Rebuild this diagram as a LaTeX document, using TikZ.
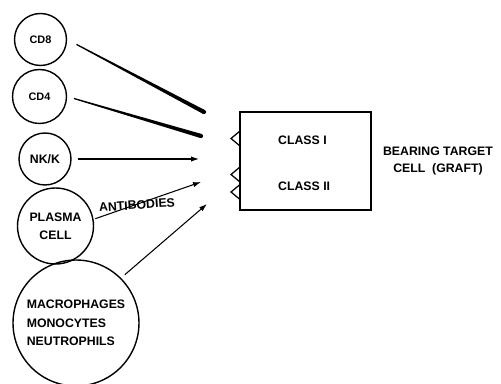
\documentclass[tikz,border=0pt]{standalone}
\usepackage{fontspec}
\setmainfont{Liberation Sans}
\usepackage{tikz}
\usetikzlibrary{positioning,calc,arrows.meta}

\tikzset{
 cell/.style={circle, draw, line width=0.8pt, inner sep=0pt, align=center,
   font=\fontsize{7}{10.5}\selectfont\bfseries},
 cdcell/.style={cell, font=\fontsize{6.2}{7}\selectfont\bfseries},
 lbl/.style={font=\fontsize{7}{10.2}\selectfont\bfseries, align=center},
 hit/.style={line width=0.6pt, -{Latex[length=4.5pt,width=3pt]}},
 pocket/.style={line width=0.7pt},
}

\newcommand\taperline[3]{%
 \coordinate (ts) at ($(#1)!#3!(#2)$);
 \fill ($(ts)!0.35pt!90:(#2)$) -- ($(#2)!1.2pt!-90:(ts)$)
   -- ($(#2)!1.2pt!90:(ts)$) -- ($(ts)!0.35pt!-90:(#2)$) -- cycle;
 \fill (#2) circle (1.2pt);
}

\begin{document}
\begin{tikzpicture}[x=0.02cm, y=-0.02cm]

 \useasboundingbox (0,0) rectangle (501,384);

 \node[cdcell, minimum size=1.04cm] (cd8) at (40.5,39.5) {CD8};
 \node[cdcell, minimum size=1.08cm] (cd4) at (39.5,96.5) {CD4};
 \node[cell, minimum size=1.04cm] (nk) at (45,159) {NK/K};
 \node[cell, minimum size=1.52cm] (pc) at (55.5,226) {PLASMA\\CELL};
 \node[cell, minimum size=2.52cm, align=left] (mac) at (76,323)
   {MACROPHAGES\\MONOCYTES\\NEUTROPHILS};

 \node[draw, line width=0.8pt, minimum width=2.62cm, minimum height=1.96cm]
   (graft) at (305.5,161) {};
 \foreach \y in {138.5,174.5,192}
   \draw[pocket] (240,\y-7.5) -- (231,\y) -- (240,\y+7.5);
 \node[lbl, anchor=west] (c1) at (272,140) {CLASS I};
 \node[lbl, anchor=west] (c2) at (272,186) {CLASS II};
 \node[lbl] (tc) at (438,161) {BEARING TARGET\\CELL \ (GRAFT)};

 \coordinate (t1) at (204,112);
 \coordinate (t2) at (201,136);
 \coordinate (t3) at (199,159);
 \coordinate (t4) at (201,182);
 \coordinate (t5) at (207,204);

 \taperline{cd8.east}{t1}{0.21cm}
 \taperline{cd4.east}{t2}{0.14cm}
 \draw[hit, shorten <=3.4pt] (nk.east) -- (t3);
 \draw[hit, shorten <=1pt] (pc.10) -- (t4);
 \draw[hit, shorten <=2.8pt] (mac.45) -- (t5);

 \node[lbl, rotate=4] (ab) at (137,205) {ANTIBODIES};

\end{tikzpicture}
\end{document}
